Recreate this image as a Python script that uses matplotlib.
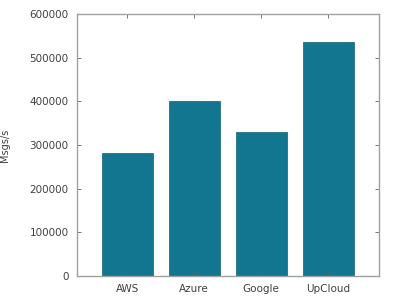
import matplotlib
matplotlib.use("Agg")
import matplotlib.pyplot as plt

providers = ["AWS", "Azure", "Google", "UpCloud"]
msgs_per_sec = [281000, 400000, 330000, 536000]

BAR_COLOR = "#137690"
FRAME_COLOR = "#a0a0a0"
TEXT_COLOR = "#404040"

fig = plt.figure(figsize=(4, 3), dpi=100)
ax = fig.add_axes([0.1925, 0.08, 0.755, 0.873])

x = list(range(len(providers)))
ax.bar(x, msgs_per_sec, width=0.76, color=BAR_COLOR, edgecolor="#0e5f75", linewidth=0.5)

ax.set_xlim(-0.75, 3.76)
ax.set_ylim(0, 600000)
ax.set_yticks(range(0, 600001, 100000))
ax.set_xticks(x)
ax.set_xticklabels(providers)
ax.set_ylabel("Msgs/s", fontsize=7, color=TEXT_COLOR)
ax.yaxis.set_label_coords(-0.222, 0.5)

ax.tick_params(direction="in", length=3, width=0.6, color="#606060",
               top=True, right=True, labelsize=7.5, labelcolor=TEXT_COLOR, pad=6)
for side in ax.spines.values():
    side.set_color(FRAME_COLOR)
    side.set_linewidth(1.0)

fig.savefig("out.png", dpi=100)
